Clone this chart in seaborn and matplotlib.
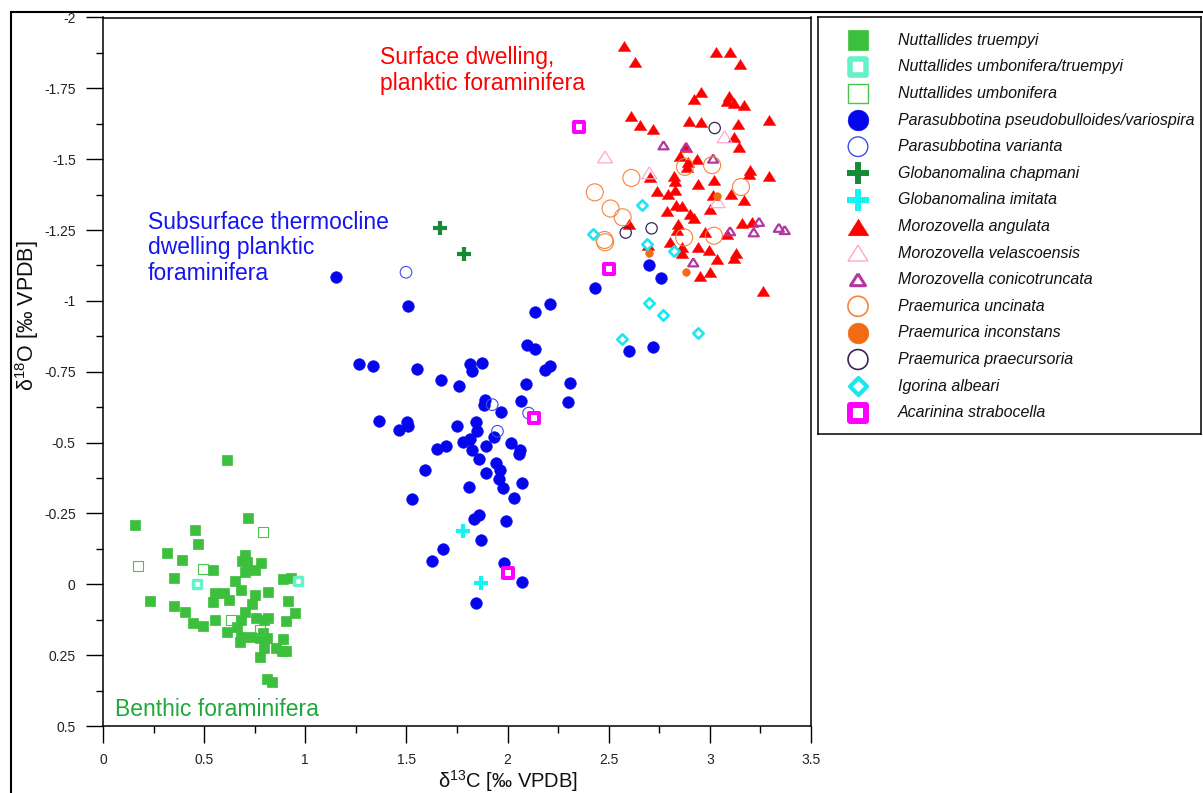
import numpy as np
import pandas as pd
import matplotlib
matplotlib.use("Agg")
import matplotlib.pyplot as plt
import seaborn as sns
from matplotlib.patches import Rectangle
from matplotlib.ticker import MultipleLocator, FixedLocator, FixedFormatter

# ---------------- data (d13C = x, d18O = y) ----------------
NT_X = [0.614, 0.159, 0.715, 0.453, 0.470, 0.314, 0.393, 0.700, 0.685, 0.710, 0.782, 0.542, 0.700, 0.752,
        0.353, 0.654, 0.890, 0.927, 0.233, 0.555, 0.598, 0.683, 0.752, 0.818, 0.545, 0.624, 0.913, 0.353,
        0.404, 0.736, 0.701, 0.948, 0.553, 0.447, 0.494, 0.683, 0.757, 0.795, 0.816, 0.903, 0.664, 0.614,
        0.683, 0.734, 0.790, 0.774, 0.812, 0.889, 0.675, 0.795, 0.856, 0.887, 0.907, 0.775, 0.812, 0.833]
NT_Y = [-0.44, -0.208, -0.235, -0.193, -0.142, -0.112, -0.086, -0.102, -0.082, -0.079, -0.076, -0.049, -0.045,
        -0.050, -0.022, -0.012, -0.020, -0.021, 0.059, 0.029, 0.029, 0.021, 0.038, 0.028, 0.062, 0.057, 0.060,
        0.076, 0.097, 0.069, 0.097, 0.101, 0.127, 0.137, 0.148, 0.127, 0.120, 0.127, 0.120, 0.130, 0.150,
        0.167, 0.187, 0.187, 0.173, 0.191, 0.190, 0.193, 0.205, 0.226, 0.225, 0.237, 0.236, 0.257, 0.335, 0.346]

NUT_X = [0.463, 0.963]
NUT_Y = [-0.002, -0.012]

NU_X = [0.789, 0.172, 0.494, 0.632, 0.774]
NU_Y = [-0.184, -0.063, -0.053, 0.127, 0.162]

PP_X = [1.152, 1.510, 2.208, 2.134, 2.096, 2.136, 1.268, 1.334, 1.551, 1.815, 1.822, 1.874, 2.185, 2.211,
        1.671, 1.758, 2.091, 2.307, 1.886, 1.884, 1.966, 2.067, 2.298, 1.364, 1.502, 1.508, 1.465, 1.751,
        1.845, 1.848, 2.130, 1.935, 1.649, 1.695, 1.779, 1.815, 1.825, 1.891, 2.016, 2.060, 2.055, 1.860,
        1.590, 1.943, 1.963, 1.894, 1.957, 1.978, 2.073, 1.809, 1.528, 2.032, 1.860, 1.832, 1.990, 1.869,
        1.681, 1.626, 1.981, 2.070, 1.842, 2.701, 2.758, 2.433, 2.599, 2.720]
PP_Y = [-1.086, -0.982, -0.989, -0.962, -0.845, -0.830, -0.779, -0.769, -0.761, -0.778, -0.751, -0.782, -0.755,
        -0.771, -0.722, -0.700, -0.708, -0.710, -0.649, -0.633, -0.609, -0.647, -0.642, -0.575, -0.573, -0.560,
        -0.546, -0.557, -0.573, -0.542, -0.587, -0.520, -0.478, -0.489, -0.502, -0.511, -0.473, -0.487, -0.499,
        -0.475, -0.461, -0.441, -0.405, -0.427, -0.405, -0.393, -0.370, -0.339, -0.356, -0.344, -0.302, -0.303,
        -0.246, -0.231, -0.225, -0.155, -0.126, -0.083, -0.076, -0.007, 0.065, -1.127, -1.082, -1.045, -0.824,
        -0.838]

PV_X = [1.498, 1.924, 1.950, 2.104]
PV_Y = [-1.101, -0.634, -0.540, -0.604]

GC_X = [1.666, 1.784]
GC_Y = [-1.257, -1.165]

GI_X = [1.778, 1.869]
GI_Y = [-0.188, -0.004]

MA_X = [2.576, 2.628, 3.031, 3.098, 3.149, 2.954, 2.923, 3.095, 3.087, 3.121, 3.171, 2.610, 2.655, 2.719,
        2.898, 2.957, 3.141, 3.291, 3.121, 3.143, 2.882, 2.854, 2.890, 2.887, 2.936, 3.200, 3.194, 3.291,
        2.825, 2.829, 2.706, 3.021, 2.941, 2.827, 2.737, 2.794, 3.018, 3.105, 3.167, 3.000, 2.831, 2.862,
        2.788, 2.904, 2.921, 2.602, 2.844, 2.839, 3.160, 3.210, 2.975, 3.084, 2.802, 2.692, 2.860, 2.860,
        2.943, 2.996, 3.130, 3.121, 3.034, 2.952, 3.000, 3.264]
MA_Y = [-1.901, -1.843, -1.877, -1.877, -1.836, -1.737, -1.714, -1.723, -1.704, -1.700, -1.693, -1.651, -1.620,
        -1.605, -1.635, -1.632, -1.623, -1.640, -1.579, -1.543, -1.543, -1.511, -1.491, -1.471, -1.499, -1.461,
        -1.448, -1.441, -1.441, -1.424, -1.438, -1.425, -1.413, -1.393, -1.387, -1.376, -1.372, -1.378, -1.356,
        -1.326, -1.338, -1.336, -1.318, -1.307, -1.291, -1.273, -1.273, -1.250, -1.276, -1.279, -1.244, -1.236,
        -1.207, -1.197, -1.191, -1.168, -1.191, -1.180, -1.170, -1.150, -1.149, -1.089, -1.101, -1.036]

MV_X = [2.482, 2.701, 3.073, 3.038]
MV_Y = [-1.508, -1.452, -1.579, -1.350]

MC_X = [2.771, 2.882, 3.016, 3.243, 3.217, 3.341, 3.370, 3.100, 2.918]
MC_Y = [-1.549, -1.543, -1.502, -1.279, -1.242, -1.258, -1.250, -1.246, -1.136]

PU_X = [2.431, 2.612, 2.509, 2.569, 2.479, 2.482, 2.877, 3.011, 3.154, 2.873, 3.020]
PU_Y = [-1.383, -1.434, -1.326, -1.295, -1.215, -1.207, -1.473, -1.479, -1.402, -1.224, -1.230]

PI_X = [2.697, 3.033, 2.883]
PI_Y = [-1.170, -1.371, -1.101]

PR_X = [3.024, 2.584, 2.712]
PR_Y = [-1.610, -1.241, -1.256]

IA_X = [2.664, 2.423, 2.689, 2.822, 2.701, 2.770, 2.564, 2.942]
IA_Y = [-1.338, -1.236, -1.200, -1.177, -0.994, -0.951, -0.866, -0.885]

AS_X = [2.131, 2.003, 2.353, 2.499]
AS_Y = [-0.587, -0.041, -1.615, -1.113]

SPECIES = ["Nuttallides truempyi", "Nuttallides umbonifera/truempyi", "Nuttallides umbonifera",
           "Parasubbotina pseudobulloides/variospira", "Parasubbotina varianta",
           "Globanomalina chapmani", "Globanomalina imitata", "Morozovella angulata",
           "Morozovella velascoensis", "Morozovella conicotruncata", "Praemurica uncinata",
           "Praemurica inconstans", "Praemurica praecursoria", "Igorina albeari", "Acarinina strabocella"]
SERIES = [(NT_X, NT_Y), (NUT_X, NUT_Y), (NU_X, NU_Y), (PP_X, PP_Y), (PV_X, PV_Y), (GC_X, GC_Y),
          (GI_X, GI_Y), (MA_X, MA_Y), (MV_X, MV_Y), (MC_X, MC_Y), (PU_X, PU_Y), (PI_X, PI_Y),
          (PR_X, PR_Y), (IA_X, IA_Y), (AS_X, AS_Y)]

X_TICKS = [0, 0.5, 1, 1.5, 2, 2.5, 3, 3.5]
X_LABELS = ["0", "0.5", "1", "1.5", "2", "2.5", "3", "3.5"]
Y_TICKS = [-2, -1.75, -1.5, -1.25, -1, -0.75, -0.5, -0.25, 0, 0.25, 0.5]
Y_LABELS = ["-2", "-1.75", "-1.5", "-1.25", "-1", "-0.75", "-0.5", "-0.25", "0", "0.25", "0.5"]

# ---------------- styles ----------------
TRI = [(0, 0.8), (-1, -0.8), (1, -0.8), (0, 0.8)]
# (marker, face, edge, plot size, plot lw, legend size, legend lw)
STYLE = [
    ("s", "#3cbf3c", "#3cbf3c", 46, 0.5, 220, 0.5),
    ("s", "white", "#66f2c8", 37, 2.5, 125, 4.0),
    ("s", "none", "#4cc44c", 52, 0.8, 190, 1.0),
    ("o", "#0505ee", "#0505ee", 72, 0.3, 225, 0.3),
    ("o", "none", "#3e4cf0", 70, 0.8, 200, 1.0),
    ("+", None, "#168a38", 100, 3.0, 230, 4.3),
    ("+", None, "#14f4f4", 100, 3.0, 230, 4.3),
    (TRI, "#ff0000", "#ff0000", 82, 0.3, 225, 0.3),
    (TRI, "none", "#ffa6d2", 115, 0.9, 205, 1.0),
    (TRI, "none", "#b4369f", 52, 1.6, 115, 2.2),
    ("o", "none", "#f5843c", 150, 0.8, 210, 1.2),
    ("o", "#f26a12", "#f26a12", 32, 0.3, 225, 0.3),
    ("o", "none", "#3a2456", 66, 0.9, 205, 1.2),
    ("D", "white", "#18e6f0", 28, 1.9, 75, 3.0),
    ("s", "white", "#ff00ff", 60, 2.9, 117, 4.3),
]

sns.set_theme(style="white")
plt.rcParams["font.family"] = ["Liberation Sans", "DejaVu Sans"]
plt.rcParams["mathtext.fontset"] = "custom"
plt.rcParams["mathtext.rm"] = "Liberation Sans"
plt.rcParams["mathtext.it"] = "Liberation Sans:italic"
plt.rcParams["mathtext.default"] = "regular"
plt.rcParams["axes.unicode_minus"] = False

W, H = 1203, 793
fig = plt.figure(figsize=(W / 100, H / 100), dpi=100)
fig.patch.set_facecolor("white")

# outer frame
fig.add_artist(Rectangle((11 / W, -0.1), 1.2, (1 - 12 / H) + 0.1, transform=fig.transFigure,
                         fill=False, ec="black", lw=1.5, clip_on=False))

ax = fig.add_axes([103 / W, 1 - 726 / H, (811 - 103) / W, (726 - 17.5) / H])

for (xs, ys), (mk, fc, ec, s, lw, _, _) in zip(SERIES, STYLE):
    df = pd.DataFrame({"d13C": xs, "d18O": ys})
    if fc is None:
        sns.scatterplot(data=df, x="d13C", y="d18O", ax=ax, marker=mk, s=s, color=ec,
                        linewidth=lw, legend=False, zorder=3)
    else:
        sns.scatterplot(data=df, x="d13C", y="d18O", ax=ax, marker=mk, s=s, color=ec,
                        facecolor=fc, edgecolor=ec, linewidth=lw, legend=False, zorder=3)

ax.set_xlim(0, 3.5)
ax.set_ylim(0.5, -2)
ax.xaxis.set_major_locator(FixedLocator(X_TICKS))
ax.xaxis.set_major_formatter(FixedFormatter(X_LABELS))
ax.yaxis.set_major_locator(FixedLocator(Y_TICKS))
ax.yaxis.set_major_formatter(FixedFormatter(Y_LABELS))
ax.xaxis.set_minor_locator(MultipleLocator(0.25))
ax.yaxis.set_minor_locator(MultipleLocator(0.125))
ax.tick_params(which="major", direction="out", length=12.2, width=1.0, color="black",
               labelsize=10, labelcolor="#222222")
ax.tick_params(which="minor", direction="out", length=5, width=1.0, color="black")
ax.tick_params(axis="y", which="major", pad=7.5)
ax.tick_params(axis="x", which="major", pad=7)
ax.tick_params(bottom=True, left=True, which="both")
for sp in ax.spines.values():
    sp.set_visible(True)
    sp.set_color("black")
    sp.set_linewidth(1.1)
ax.grid(False)

ax.set_xlabel("δ$^{13}$C [‰ VPDB]", fontsize=14.5, color="#111111")
ax.xaxis.set_label_coords(0.572, -0.0595)
ax.set_ylabel("δ$^{18}$O [‰ VPDB]", fontsize=15.5, color="#111111", va="center")
ax.yaxis.set_label_coords(-0.107, 0.579)

ax.text(1.369, -1.90, "Surface dwelling,\nplanktic foraminifera", color="#ff0000",
        fontsize=16.5, ha="left", va="top", linespacing=1.15, zorder=2)
ax.text(0.222, -1.318, "Subsurface thermocline\ndwelling planktic\nforaminifera", color="#1414f0",
        fontsize=16.5, ha="left", va="top", linespacing=1.15, zorder=2)
ax.text(0.059, 0.40, "Benthic foraminifera", color="#1fa83c",
        fontsize=16.5, ha="left", va="top", zorder=2)

# legend box
lax = fig.add_axes([818 / W, 1 - 433.7 / H, (1201 - 818) / W, (433.7 - 17) / H])
lax.set_xlim(0, 383)
lax.set_ylim(416.7, 0)
lax.set_xticks([])
lax.set_yticks([])
for sp in lax.spines.values():
    sp.set_visible(True)
    sp.set_color("black")
    sp.set_linewidth(1.1)
for i, (name, (mk, fc, ec, _, _, ls, llw)) in enumerate(zip(SPECIES, STYLE)):
    yy = 23.3 + 26.6 * i
    if fc is None:
        lax.scatter([40], [yy], marker=mk, s=ls, color=ec, linewidths=llw)
    else:
        lax.scatter([40], [yy], marker=mk, s=ls, facecolors=fc, edgecolors=ec, linewidths=llw)
    lax.text(80, yy, name, fontsize=11.5, style="italic", va="center", ha="left", color="#111111")

fig.savefig("out.png", dpi=100)
